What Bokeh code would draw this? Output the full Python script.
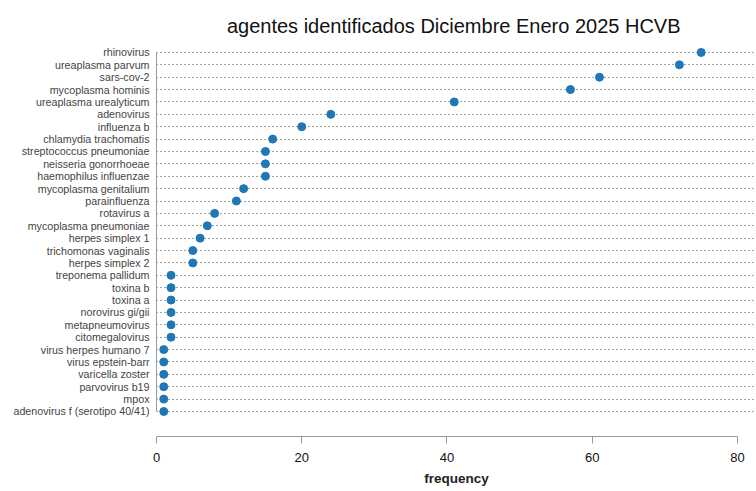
from bokeh.plotting import figure
from bokeh.models import Range1d, FixedTicker, ColumnDataSource
from bokeh.embed import file_html
from bokeh.resources import INLINE

title_text = "agentes identificados  Diciembre Enero 2025 HCVB"

categories = [
    "rhinovirus", "ureaplasma parvum", "sars-cov-2", "mycoplasma hominis",
    "ureaplasma urealyticum", "adenovirus", "influenza b", "chlamydia trachomatis",
    "streptococcus pneumoniae", "neisseria gonorrhoeae", "haemophilus influenzae",
    "mycoplasma genitalium", "parainfluenza", "rotavirus a", "mycoplasma pneumoniae",
    "herpes simplex 1", "trichomonas vaginalis", "herpes simplex 2", "treponema pallidum",
    "toxina b", "toxina a", "norovirus gi/gii", "metapneumovirus", "citomegalovirus",
    "virus herpes humano 7", "virus epstein-barr", "varicella zoster", "parvovirus b19",
    "mpox", "adenovirus f (serotipo 40/41)",
]
frequency = [75, 72, 61, 57, 41, 24, 20, 16, 15, 15, 15, 12, 11, 8, 7, 6, 5, 5,
             2, 2, 2, 2, 2, 2, 1, 1, 1, 1, 1, 1]
x_ticks = [0, 20, 40, 60, 80]

n = len(categories)
pos = [n - 1 - i for i in range(n)]
source = ColumnDataSource(dict(cat=categories, freq=frequency, pos=pos))

p = figure(width=756, height=491, output_backend="svg", toolbar_location=None,
           x_range=Range1d(0, 82.62), y_range=Range1d(-2.02, n - 1 + 0.48),
           min_border_left=156, min_border_right=0, min_border_top=46,
           min_border_bottom=55, title=title_text)
p.outline_line_color = None
p.background_fill_color = "white"
p.border_fill_color = "white"

p.title.align = "center"
p.title.text_font = "Liberation Sans"
p.title.text_font_size = "20px"
p.title.text_font_style = "normal"
p.title.text_color = "#111111"
p.title.text_line_height = 0.8
p.title.standoff = 20

# y axis with category labels
yax = p.yaxis[0]
yax.ticker = FixedTicker(ticks=pos)
yax.major_label_overrides = {pp: c for pp, c in zip(pos, categories)}
yax.major_tick_out = 0
yax.major_tick_in = 0
yax.minor_tick_out = 0
yax.minor_tick_in = 0
yax.major_label_standoff = 7
yax.axis_line_color = "#9a9a9a"
yax.bounds = (0, n - 1)
yax.major_label_text_font = "Liberation Sans"
yax.major_label_text_font_size = "10.7px"
yax.major_label_text_color = "#444444"

# x axis
xax = p.xaxis[0]
xax.ticker = FixedTicker(ticks=x_ticks)
xax.bounds = (0, 80)
xax.axis_line_color = "#9a9a9a"
xax.major_tick_line_color = "#9a9a9a"
xax.major_tick_out = 7
xax.major_tick_in = 0
xax.minor_tick_out = 0
xax.minor_tick_in = 0
xax.major_label_standoff = 9
xax.major_label_text_font = "Liberation Sans"
xax.major_label_text_font_size = "13px"
xax.major_label_text_color = "#111111"
xax.axis_label = "frequency"
xax.axis_label_text_font = "Liberation Sans"
xax.axis_label_text_font_size = "13.5px"
xax.axis_label_text_font_style = "bold"
xax.axis_label_text_color = "#222222"
xax.axis_label_standoff = 6

p.xgrid.grid_line_color = None
p.ygrid.grid_line_color = "#444444"
p.ygrid.grid_line_dash = "1 3"
p.ygrid.grid_line_width = 1

p.scatter("freq", "pos", source=source, size=8, color="#1f77b4", line_color="#1f77b4")

open("out.html", "w").write(file_html(p, INLINE))
